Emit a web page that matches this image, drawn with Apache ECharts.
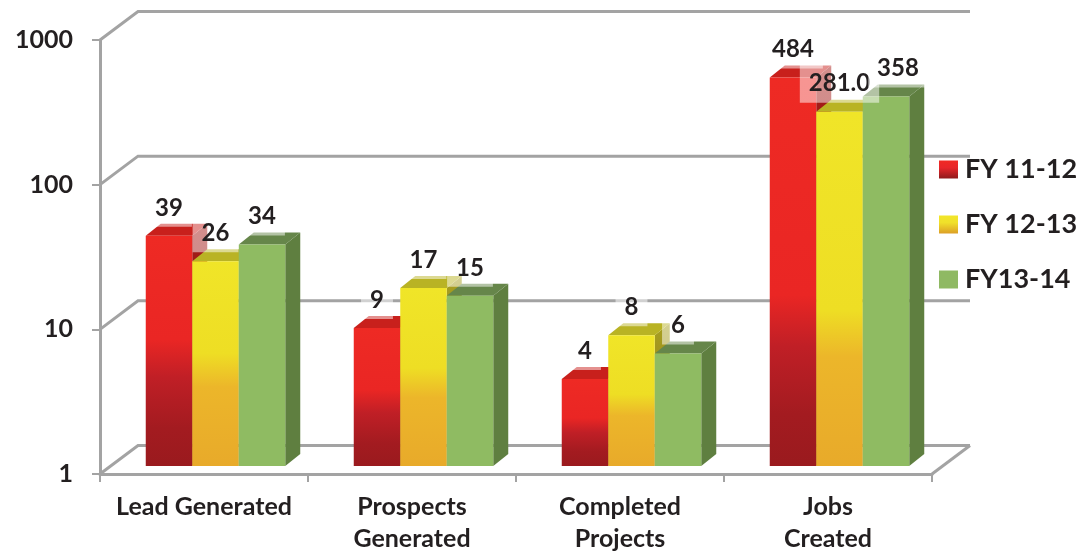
<!DOCTYPE html>
<html><head><meta charset="utf-8">
<style>html,body{margin:0;padding:0;background:#fff}#c{width:1081px;height:555px}</style>
<script src="https://cdn.jsdelivr.net/npm/echarts@6/dist/echarts.min.js"></script>
</head><body><div id="c"></div>
<script>
const categories = ['Lead Generated', 'Prospects\nGenerated', 'Completed\nProjects', 'Jobs\nCreated'];
const fy1112 = [39, 9, 4, 484];
const fy1213 = [26, 17, 8, 281];
const fy1314 = [34, 15, 6, 358];
const labels1112 = ['39', '9', '4', '484'];
const labels1213 = ['26', '17', '8', '281.0'];
const labels1314 = ['34', '15', '6', '358'];
const seriesNames = ['FY 11-12', 'FY 12-13', 'FY13-14'];
const logTicks = [1, 10, 100, 1000];

const grad = (stops) => ({type:'linear',x:0,y:0,x2:0,y2:1,colorStops:stops.map(s=>({offset:s[0],color:s[1]}))});
const redFront = (f) => grad([[0,'#ee2a24'],[f,'#ea2624'],[f+(1-f)*0.3,'#c01f26'],[f+(1-f)*0.7,'#a31b20'],[1,'#9a1a1e']]);
const yellowFront = (f) => grad([[0,'#f0e528'],[f,'#eede24'],[f+(1-f)*0.3,'#ecb62a'],[1,'#e8aa2a']]);
const styles = [
  {front:redFront,
   top:'#c8201c', side:grad([[0,'#a81c18'],[1,'#6d1412']]),
   legend:grad([[0,'#f02a24'],[0.4,'#e8262a'],[1,'#8f1a1c']])},
  {front:yellowFront,
   top:'#b9b324', side:grad([[0,'#a8a020'],[1,'#8a6d18']]),
   legend:grad([[0,'#f2e62a'],[0.4,'#f0e02a'],[1,'#dc9f26']])},
  {front:()=>'#8fbb62', top:'#66864a', side:'#5f7f40', legend:'#8fb963'}
];
const BAR_W = 46.5, DX = 15, DY = 12, BASE_UP = 8, GROUP_SHIFT = 11.5;
const WALL_DX = 38, WALL_DY = 28.5, LINE = '#a3a3a3';

function barSeries(name, values, si) {
  const st = styles[si];
  return {
    name, type:'custom', z:3+si, itemStyle:{color:st.legend},
    data: values.map((v,i)=>[i,v]), encode:{x:0,y:1},
    renderItem(params, api){
      const p = api.coord([api.value(0), api.value(1)]);
      const b = api.coord([api.value(0), 1]);
      const x0 = p[0] + GROUP_SHIFT + (si-1.5)*BAR_W, x1 = x0 + BAR_W;
      const yt = p[1]-BASE_UP, yb = b[1]-BASE_UP;
      const fade = (yb-yt) > 300 ? 0.56 : 0.45;
      return {type:'group', children:[
        {type:'polygon',shape:{points:[[x1,yt],[x1+DX,yt-DY],[x1+DX,yb-DY],[x1,yb]]},style:{fill:st.side}},
        {type:'polygon',shape:{points:[[x0,yt],[x0+DX,yt-DY],[x1+DX,yt-DY],[x1,yt]]},style:{fill:st.top}},
        {type:'rect',shape:{x:x0,y:yt,width:BAR_W,height:yb-yt},style:{fill:st.front(fade)}}
      ]};
    }
  };
}
function labelSeries(values, texts, si) {
  return {
    name:'labels'+si, type:'custom', z:10+si, silent:true,
    data: values.map((v,i)=>[i,v,texts[i]]), encode:{x:0,y:1},
    renderItem(params, api){
      const i = api.value(0);
      const p = api.coord([i, api.value(1)]);
      const extra = (si===2 && i===3) ? 12 : 0;
      const x = p[0] + GROUP_SHIFT + (si-1)*BAR_W + extra;
      return {type:'text',x:x,y:p[1]-BASE_UP-28,style:{
        text:texts[i],fill:'#231f20',font:'bold 24px Lato',align:'center',verticalAlign:'middle',
        backgroundColor:'rgba(255,255,255,0.5)',padding:[7,9]
      }};
    }
  };
}
const wallSeries = {
  name:'walls', type:'custom', z:1, silent:true,
  data: logTicks.map(v=>[0,v]), encode:{x:0,y:1},
  renderItem(params, api){
    const y = api.coord([0, api.value(1)])[1];
    const cs = params.coordSys;
    const xl = cs.x, xr = cs.x+cs.width;
    const kids = [{type:'polyline',shape:{points:[[xl,y],[xl+WALL_DX,y-WALL_DY],[xr+WALL_DX,y-WALL_DY]]},
      style:{fill:null,stroke:LINE,lineWidth:3}}];
    if (api.value(1)===1) kids.push({type:'line',shape:{x1:xr,y1:y,x2:xr+WALL_DX,y2:y-WALL_DY},style:{stroke:LINE,lineWidth:3}});
    return {type:'group',children:kids};
  }
};

const chart = echarts.init(document.getElementById('c'), null, {renderer:'canvas'});
chart.setOption({
  animation:false,
  backgroundColor:'#fff',
  textStyle:{fontFamily:'Lato'},
  grid:{left:100,right:149,top:40,bottom:78,containLabel:false},
  legend:{
    data:seriesNames, orient:'vertical', left:939, top:156, padding:0, itemWidth:19, itemHeight:18, itemGap:28,
    icon:'rect', selectedMode:false,
    textStyle:{fontFamily:'Lato',fontWeight:'bold',fontSize:27,color:'#231f20',padding:[0,0,0,2]}
  },
  xAxis:{
    type:'category', data:categories, boundaryGap:true, z:2,
    axisLine:{show:true,lineStyle:{color:LINE,width:3}},
    axisTick:{show:true,alignWithLabel:false,length:8,lineStyle:{color:LINE,width:2}},
    axisLabel:{fontFamily:'Lato',fontWeight:'bold',fontSize:25,color:'#231f20',lineHeight:32,margin:17,interval:0},
    splitLine:{show:false}
  },
  yAxis:{
    type:'log', logBase:10, min:1, max:1000, z:2,
    axisLine:{show:true,lineStyle:{color:LINE,width:3}},
    axisTick:{show:true,length:8,lineStyle:{color:LINE,width:2}},
    axisLabel:{fontFamily:'Lato',fontWeight:'bold',fontSize:25,color:'#231f20',margin:27,formatter:(v)=>String(Math.round(v))},
    splitLine:{show:false}, minorTick:{show:false}
  },
  series:[
    wallSeries,
    barSeries(seriesNames[0],fy1112,0),
    barSeries(seriesNames[1],fy1213,1),
    barSeries(seriesNames[2],fy1314,2),
    labelSeries(fy1112,labels1112,0),
    labelSeries(fy1213,labels1213,1),
    labelSeries(fy1314,labels1314,2)
  ]
});
</script></body></html>
